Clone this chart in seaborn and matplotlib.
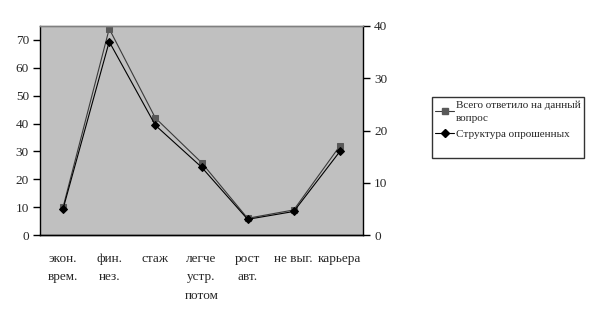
import matplotlib
matplotlib.use("Agg")
import matplotlib.pyplot as plt
import seaborn as sns
import pandas as pd
from matplotlib.lines import Line2D

categories = ["экон.\nврем.", "фин.\nнез.", "стаж", "легче\nустр.\nпотом", "рост\nавт.", "не выг.", "карьера"]
total_answered = [10, 74, 42, 26, 6, 9, 32]
structure = [5, 37, 21, 13, 3, 4.5, 16]
label_total = "Всего ответило на данный\nвопрос"
label_struct = "Структура опрошенных"

sns.set_style("white")
plt.rcParams['font.family'] = ['Liberation Serif', 'DejaVu Serif']
plt.rcParams['font.size'] = 9.5

df = pd.DataFrame({"x": range(len(categories)), "total": total_answered, "struct": structure})

fig = plt.figure(figsize=(5.92, 3.16), dpi=100)
ax = fig.add_axes([40/592, 81/316, 323/592, 209/316])
ax.set_facecolor("#C0C0C0")
ax2 = ax.twinx()

sns.lineplot(data=df, x="x", y="total", ax=ax, color="#3a3a3a", linewidth=0.8,
             marker="s", markersize=4.5, markerfacecolor="#595959", markeredgecolor="#595959")
sns.lineplot(data=df, x="x", y="struct", ax=ax2, color="black", linewidth=0.8,
             marker="D", markersize=4, markerfacecolor="black", markeredgecolor="black")

ax.set_xlim(-0.5, len(categories) - 0.5)
ax.set_ylim(0, 75)
ax2.set_ylim(0, 40)
ax.set_yticks(range(0, 80, 10))
ax2.set_yticks(range(0, 50, 10))
ax.set_xticks([i - 0.5 for i in range(len(categories) + 1)])
ax.set_xticklabels([])
ax.set_xticks(range(len(categories)), minor=True)
ax.set_xticklabels(categories, minor=True, linespacing=1.7, va="top")
ax.tick_params(axis="x", which="minor", length=0, pad=13)
ax.tick_params(axis="x", which="major", direction="inout", length=8, width=1, color="black")
ax.tick_params(axis="y", direction="out", length=5, width=1, color="black", pad=3)
ax2.tick_params(axis="y", direction="out", length=5, width=1, color="black", pad=3)
ax.set_xlabel("")
ax.set_ylabel("")
ax2.set_ylabel("")

for a in (ax, ax2):
    a.spines["left"].set_color("black")
    a.spines["bottom"].set_color("black")
    a.spines["right"].set_color("black")
    a.spines["top"].set_color("#808080")
    for s in a.spines.values():
        s.set_visible(True)
        s.set_linewidth(1)
ax.spines["right"].set_visible(False)
ax2.spines["left"].set_visible(False)

handles = [
    Line2D([], [], color="#3a3a3a", linewidth=0.8, marker="s", markersize=4.5,
           markerfacecolor="#595959", markeredgecolor="#595959"),
    Line2D([], [], color="black", linewidth=0.8, marker="D", markersize=4,
           markerfacecolor="black", markeredgecolor="black"),
    Line2D([], [], linestyle="none"),
]
leg = fig.legend(handles, [label_total, label_struct, " "], loc="upper left",
                 bbox_to_anchor=(432/592, 1 - 97/316), borderaxespad=0,
                 frameon=True, fancybox=False,
                 edgecolor="black", handlelength=1.7, handletextpad=0.15,
                 borderpad=0.3, labelspacing=0.55,
                 prop={"family": ["Liberation Serif", "DejaVu Serif"], "size": 8.0})
for t in leg.get_texts():
    t.set_linespacing(1.6)
leg.get_frame().set_linewidth(1)

fig.savefig("out.png", dpi=100)
